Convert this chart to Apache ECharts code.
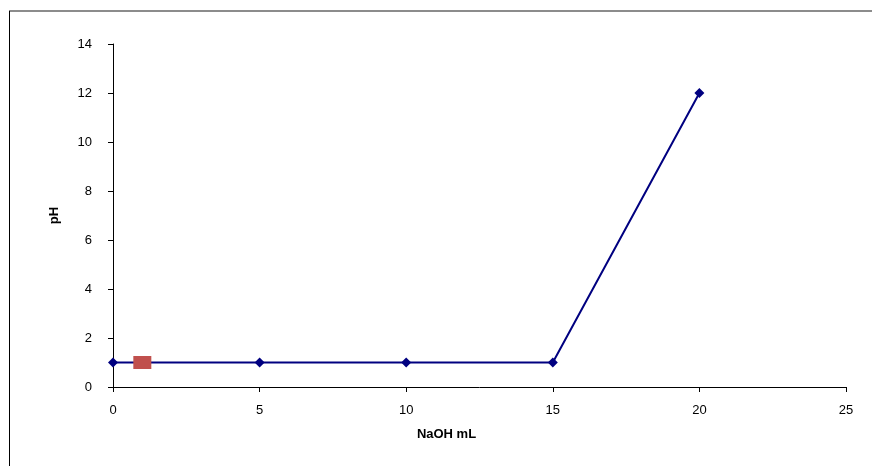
<!DOCTYPE html>
<html><head><meta charset="utf-8">
<script src="https://cdn.jsdelivr.net/npm/echarts@6/dist/echarts.min.js"></script>
<style>html,body{margin:0;padding:0;background:#fff}#c{width:872px;height:466px}</style>
</head><body><div id="c"></div>
<script>
var naohML = [0, 5, 10, 15, 20];
var pHValues = [1, 1, 1, 1, 12];
var markerPoint = [1, 1];
var xTicks = [0, 5, 10, 15, 20, 25];
var yTicks = [0, 2, 4, 6, 8, 10, 12, 14];

var chart = echarts.init(document.getElementById('c'), null, {renderer: 'canvas'});
var lineData = naohML.map(function (x, i) { return [x, pHValues[i]]; });
var lbl = {color: '#000', fontFamily: 'Liberation Sans, Arial, sans-serif', fontSize: 13};
chart.setOption({
  animation: false,
  backgroundColor: '#fff',
  grid: {left: 113, right: 26, top: 44, bottom: 79, containLabel: false},
  xAxis: {
    type: 'value', min: 0, max: 25, interval: 5,
    name: 'NaOH mL', nameLocation: 'middle', nameGap: 41,
    nameTextStyle: {color: '#000', fontWeight: 'bold', fontSize: 13, fontFamily: 'Liberation Sans, Arial, sans-serif', padding: [0, 66, 0, 0]},
    axisLine: {lineStyle: {color: '#000', width: 1}},
    axisTick: {show: true, length: 5, inside: false, lineStyle: {color: '#000'}},
    axisLabel: Object.assign({margin: 17}, lbl),
    splitLine: {show: false}
  },
  yAxis: {
    type: 'value', min: 0, max: 14, interval: 2,
    name: 'pH', nameLocation: 'middle', nameGap: 52, nameRotate: 90,
    nameTextStyle: {color: '#000', fontWeight: 'bold', fontSize: 13, fontFamily: 'Liberation Sans, Arial, sans-serif'},
    axisLine: {show: true, lineStyle: {color: '#000', width: 1}},
    axisTick: {show: true, length: 5, inside: false, lineStyle: {color: '#000'}},
    axisLabel: Object.assign({margin: 21}, lbl),
    splitLine: {show: false}
  },
  graphic: [
    {type: 'line', shape: {x1: 9, y1: 11, x2: 872, y2: 11}, style: {stroke: '#666', lineWidth: 1.5}, silent: true},
    {type: 'line', shape: {x1: 9.5, y1: 11, x2: 9.5, y2: 466}, style: {stroke: '#000', lineWidth: 1}, silent: true}
  ],
  series: [
    {
      type: 'line', data: lineData,
      lineStyle: {color: '#000080', width: 2},
      itemStyle: {color: '#000080'},
      symbol: 'diamond', symbolSize: 10, showSymbol: true
    },
    {
      type: 'scatter', data: [markerPoint],
      symbol: 'rect', symbolSize: [18, 13],
      itemStyle: {color: '#C0504D', opacity: 1}, z: 5
    }
  ]
});
</script></body></html>
